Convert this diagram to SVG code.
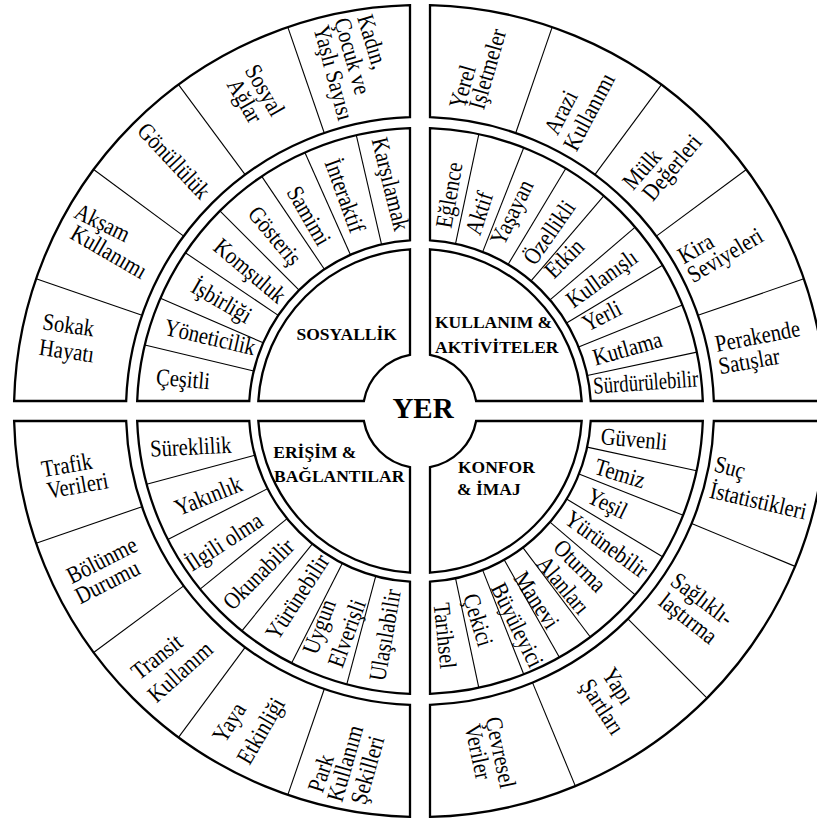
<svg xmlns="http://www.w3.org/2000/svg" width="817" height="822" viewBox="0 0 817 822">
<style>
.b{fill:#fff;stroke:#000;stroke-width:2.3}
.d{stroke:#000;stroke-width:1.1}
.t{font-family:"Liberation Serif","Times New Roman",serif;font-size:24px;text-anchor:middle;dominant-baseline:central;fill:#000}
.h{font-family:"Liberation Serif","Times New Roman",serif;font-size:17.5px;font-weight:bold;dominant-baseline:central;fill:#000}
</style>
<defs>
<line id="lo" class="d" x1="714" y1="411" x2="826" y2="411"/>
<line id="lm" class="d" x1="591" y1="411" x2="703" y2="411"/>
</defs>
<rect width="817" height="822" fill="#fff"/>

<g id="sosyallik">
<path class="b" d="M410,5.12 L410,117.17 A294,294 0 0 0 126.17,401 L14.12,401 A406,406 0 0 1 410,5.12 Z"/>
<path class="b" d="M410,128.18 L410,240.29 A171,171 0 0 0 249.29,401 L137.18,401 A283,283 0 0 1 410,128.18 Z"/>
<path class="b" d="M410,249.31 L410,354.88 A57,57 0 0 0 363.88,401 L258.31,401 A162,162 0 0 1 410,249.31 Z"/>
<use href="#lo" transform="rotate(199 420 411)"/>
<use href="#lo" transform="rotate(216.5 420 411)"/>
<use href="#lo" transform="rotate(233.5 420 411)"/>
<use href="#lo" transform="rotate(251 420 411)"/>
<use href="#lm" transform="rotate(193.5 420 411)"/>
<use href="#lm" transform="rotate(203.5 420 411)"/>
<use href="#lm" transform="rotate(214 420 411)"/>
<use href="#lm" transform="rotate(225 420 411)"/>
<use href="#lm" transform="rotate(236 420 411)"/>
<use href="#lm" transform="rotate(246 420 411)"/>
<use href="#lm" transform="rotate(257 420 411)"/>
<text class="t" transform="translate(68.5 325) rotate(8) scale(.86 1)">Sokak</text>
<text class="t" transform="translate(66.7 350.7) rotate(8) scale(.86 1)">Hayatı</text>
<text class="t" transform="translate(102.5 222.5) rotate(26) scale(.86 1)">Akşam</text>
<text class="t" transform="translate(109 251.7) rotate(30) scale(.86 1)">Kullanımı</text>
<text class="t" transform="translate(174 160.7) rotate(47) scale(.86 1)">Gönüllülük</text>
<text class="t" transform="translate(265 90) rotate(60) scale(.86 1)">Sosyal</text>
<text class="t" transform="translate(245 100.7) rotate(60) scale(.86 1)">Ağlar</text>
<text class="t" transform="translate(372.7 41.7) rotate(73) scale(.86 1)">Kadın,</text>
<text class="t" transform="translate(352.5 56) rotate(74) scale(.86 1)">Çocuk ve</text>
<text class="t" transform="translate(333.7 72.7) rotate(75) scale(.86 1)">Yaşlı Sayısı</text>
<text class="t" transform="translate(183 379) rotate(5) scale(.86 1)">Çeşitli</text>
<text class="t" transform="translate(210 337) rotate(13) scale(.86 1)">Yöneticilik</text>
<text class="t" transform="translate(221.7 300.7) rotate(30) scale(.86 1)">İşbirliği</text>
<text class="t" transform="translate(250 270.7) rotate(40) scale(.86 1)">Komşuluk</text>
<text class="t" transform="translate(275 235.7) rotate(50) scale(.86 1)">Gösteriş</text>
<text class="t" transform="translate(309 215.7) rotate(60) scale(.86 1)">Samimi</text>
<text class="t" transform="translate(345 195.7) rotate(70) scale(.86 1)">İnteraktif</text>
<text class="t" transform="translate(390.7 184) rotate(76) scale(.86 1)">Karşılamak</text>
<text class="h" x="346.7" y="334" text-anchor="middle">SOSYALLİK</text>
</g>

<g id="kullanim-aktiviteler">
<path class="b" d="M430,5.12 L430,117.17 A294,294 0 0 1 713.83,401 L825.88,401 A406,406 0 0 0 430,5.12 Z"/>
<path class="b" d="M430,128.18 L430,240.29 A171,171 0 0 1 590.71,401 L702.82,401 A283,283 0 0 0 430,128.18 Z"/>
<path class="b" d="M430,249.31 L430,354.88 A57,57 0 0 1 476.12,401 L581.69,401 A162,162 0 0 0 430,249.31 Z"/>
<use href="#lo" transform="rotate(289 420 411)"/>
<use href="#lo" transform="rotate(306.5 420 411)"/>
<use href="#lo" transform="rotate(323.5 420 411)"/>
<use href="#lo" transform="rotate(341 420 411)"/>
<use href="#lm" transform="rotate(282 420 411)"/>
<use href="#lm" transform="rotate(291.5 420 411)"/>
<use href="#lm" transform="rotate(301 420 411)"/>
<use href="#lm" transform="rotate(310.5 420 411)"/>
<use href="#lm" transform="rotate(319.5 420 411)"/>
<use href="#lm" transform="rotate(329 420 411)"/>
<use href="#lm" transform="rotate(338 420 411)"/>
<use href="#lm" transform="rotate(348 420 411)"/>
<text class="t" transform="translate(462.3 86.7) rotate(-74) scale(.86 1)">Yerel</text>
<text class="t" transform="translate(487.3 69) rotate(-74) scale(.86 1)">İşletmeler</text>
<text class="t" transform="translate(560.7 112.3) rotate(-63) scale(.86 1)">Arazi</text>
<text class="t" transform="translate(589 111.7) rotate(-62) scale(.86 1)">Kullanımı</text>
<text class="t" transform="translate(641.7 169) rotate(-49) scale(.86 1)">Mülk</text>
<text class="t" transform="translate(671.7 167.3) rotate(-50) scale(.86 1)">Değerleri</text>
<text class="t" transform="translate(695.7 248.3) rotate(-30) scale(.86 1)">Kira</text>
<text class="t" transform="translate(725 255) rotate(-31) scale(.86 1)">Seviyeleri</text>
<text class="t" transform="translate(757.5 336) rotate(-11) scale(.86 1)">Perakende</text>
<text class="t" transform="translate(749 361) rotate(-10) scale(.86 1)">Satışlar</text>
<text class="t" transform="translate(449 195) rotate(-80) scale(.86 1)">Eğlence</text>
<text class="t" transform="translate(479 213.3) rotate(-72) scale(.86 1)">Aktif</text>
<text class="t" transform="translate(511.7 212.3) rotate(-64) scale(.86 1)">Yaşayan</text>
<text class="t" transform="translate(549 232.3) rotate(-55) scale(.86 1)">Özellikli</text>
<text class="t" transform="translate(564 258.3) rotate(-45) scale(.86 1)">Etkin</text>
<text class="t" transform="translate(601.7 278.3) rotate(-36) scale(.86 1)">Kullanışlı</text>
<text class="t" transform="translate(601.7 315.7) rotate(-27) scale(.86 1)">Yerli</text>
<text class="t" transform="translate(627.3 348.3) rotate(-16) scale(.86 1)">Kutlama</text>
<text class="t" transform="translate(645.7 382.3) rotate(-4) scale(.78 1)">Sürdürülebilir</text>
<text class="h" x="435" y="322.3">KULLANIM &amp;</text>
<text class="h" x="435" y="347.3">AKTİVİTELER</text>
</g>

<g id="erisim-baglantilar">
<path class="b" d="M410,816.88 L410,704.83 A294,294 0 0 1 126.17,421 L14.12,421 A406,406 0 0 0 410,816.88 Z"/>
<path class="b" d="M410,693.82 L410,581.71 A171,171 0 0 1 249.29,421 L137.18,421 A283,283 0 0 0 410,693.82 Z"/>
<path class="b" d="M410,572.69 L410,467.12 A57,57 0 0 1 363.88,421 L258.31,421 A162,162 0 0 0 410,572.69 Z"/>
<use href="#lo" transform="rotate(161 420 411)"/>
<use href="#lo" transform="rotate(143.5 420 411)"/>
<use href="#lo" transform="rotate(126.5 420 411)"/>
<use href="#lo" transform="rotate(109 420 411)"/>
<use href="#lm" transform="rotate(165 420 411)"/>
<use href="#lm" transform="rotate(153 420 411)"/>
<use href="#lm" transform="rotate(141 420 411)"/>
<use href="#lm" transform="rotate(129 420 411)"/>
<use href="#lm" transform="rotate(117 420 411)"/>
<use href="#lm" transform="rotate(105 420 411)"/>
<text class="t" transform="translate(66.7 465) rotate(-10) scale(.86 1)">Trafik</text>
<text class="t" transform="translate(77.5 485.5) rotate(-10) scale(.86 1)">Verileri</text>
<text class="t" transform="translate(101.7 560) rotate(-27) scale(.86 1)">Bölünme</text>
<text class="t" transform="translate(107.3 581.7) rotate(-27) scale(.86 1)">Durumu</text>
<text class="t" transform="translate(156.7 656.7) rotate(-38) scale(.86 1)">Transit</text>
<text class="t" transform="translate(180 671.7) rotate(-42) scale(.86 1)">Kullanım</text>
<text class="t" transform="translate(229 722.3) rotate(-58) scale(.86 1)">Yaya</text>
<text class="t" transform="translate(260.7 730.7) rotate(-60) scale(.86 1)">Etkinliği</text>
<text class="t" transform="translate(320.7 773.3) rotate(-72) scale(.86 1)">Park</text>
<text class="t" transform="translate(345 763.3) rotate(-74) scale(.86 1)">Kullanım</text>
<text class="t" transform="translate(367.3 770) rotate(-74) scale(.86 1)">Şekilleri</text>
<text class="t" transform="translate(190.7 446.7) rotate(-3) scale(.86 1)">Süreklilik</text>
<text class="t" transform="translate(208.3 495.7) rotate(-22) scale(.86 1)">Yakınlık</text>
<text class="t" transform="translate(224 541.7) rotate(-33) scale(.86 1)">İlgili olma</text>
<text class="t" transform="translate(258.3 574) rotate(-45) scale(.86 1)">Okunabilir</text>
<text class="t" transform="translate(297.3 596.7) rotate(-57) scale(.86 1)">Yürünebilir</text>
<text class="t" transform="translate(319 626.7) rotate(-70) scale(.86 1)">Uygun</text>
<text class="t" transform="translate(346.7 633.3) rotate(-70) scale(.86 1)">Elverişli</text>
<text class="t" transform="translate(385 635) rotate(-80) scale(.86 1)">Ulaşılabilir</text>
<text class="h" x="273.3" y="452.3">ERİŞİM &amp;</text>
<text class="h" x="274" y="475.7">BAĞLANTILAR</text>
</g>

<g id="konfor-imaj">
<path class="b" d="M430,816.88 L430,704.83 A294,294 0 0 0 713.83,421 L825.88,421 A406,406 0 0 1 430,816.88 Z"/>
<path class="b" d="M430,693.82 L430,581.71 A171,171 0 0 0 590.71,421 L702.82,421 A283,283 0 0 1 430,693.82 Z"/>
<path class="b" d="M430,572.69 L430,467.12 A57,57 0 0 0 476.12,421 L581.69,421 A162,162 0 0 1 430,572.69 Z"/>
<use href="#lo" transform="rotate(22.5 420 411)"/>
<use href="#lo" transform="rotate(45 420 411)"/>
<use href="#lo" transform="rotate(67.5 420 411)"/>
<use href="#lm" transform="rotate(12.2 420 411)"/>
<use href="#lm" transform="rotate(21.6 420 411)"/>
<use href="#lm" transform="rotate(31 420 411)"/>
<use href="#lm" transform="rotate(40.5 420 411)"/>
<use href="#lm" transform="rotate(53 420 411)"/>
<use href="#lm" transform="rotate(60.5 420 411)"/>
<use href="#lm" transform="rotate(68.5 420 411)"/>
<use href="#lm" transform="rotate(78 420 411)"/>
<text class="t" transform="translate(730 467.3) rotate(15) scale(.86 1)">Suç</text>
<text class="t" transform="translate(758.3 500.7) rotate(13) scale(.86 1)">İstatistikleri</text>
<text class="t" transform="translate(702.3 599) rotate(37) scale(.86 1)">Sağlıklı-</text>
<text class="t" transform="translate(688.3 618.3) rotate(38) scale(.86 1)">laştırma</text>
<text class="t" transform="translate(618.3 685.7) rotate(57) scale(.86 1)">Yapı</text>
<text class="t" transform="translate(602.3 706.7) rotate(57) scale(.86 1)">Şartları</text>
<text class="t" transform="translate(500.7 752.3) rotate(78) scale(.86 1)">Çevresel</text>
<text class="t" transform="translate(478.3 751.7) rotate(78) scale(.86 1)">Veriler</text>
<text class="t" transform="translate(634 439) rotate(5) scale(.86 1)">Güvenli</text>
<text class="t" transform="translate(620 473.3) rotate(17) scale(.86 1)">Temiz</text>
<text class="t" transform="translate(607.3 503.3) rotate(26) scale(.86 1)">Yeşil</text>
<text class="t" transform="translate(606.7 544) rotate(36) scale(.86 1)">Yürünebilir</text>
<text class="t" transform="translate(580 565.7) rotate(45) scale(.86 1)">Oturma</text>
<text class="t" transform="translate(563.3 585) rotate(50) scale(.86 1)">Alanları</text>
<text class="t" transform="translate(536.7 600) rotate(57) scale(.86 1)">Manevi</text>
<text class="t" transform="translate(517.3 625) rotate(64) scale(.86 1)">Büyüleyici</text>
<text class="t" transform="translate(478.3 620) rotate(73) scale(.86 1)">Çekici</text>
<text class="t" transform="translate(445 635.7) rotate(84) scale(.86 1)">Tarihsel</text>
<text class="h" x="458" y="467.3">KONFOR</text>
<text class="h" x="457" y="489">&amp; İMAJ</text>
</g>

<g id="yer">
<text x="423" y="408" text-anchor="middle" dominant-baseline="central" font-family="Liberation Serif, Times New Roman, serif" font-size="29" font-weight="bold">YER</text>
</g>
</svg>
